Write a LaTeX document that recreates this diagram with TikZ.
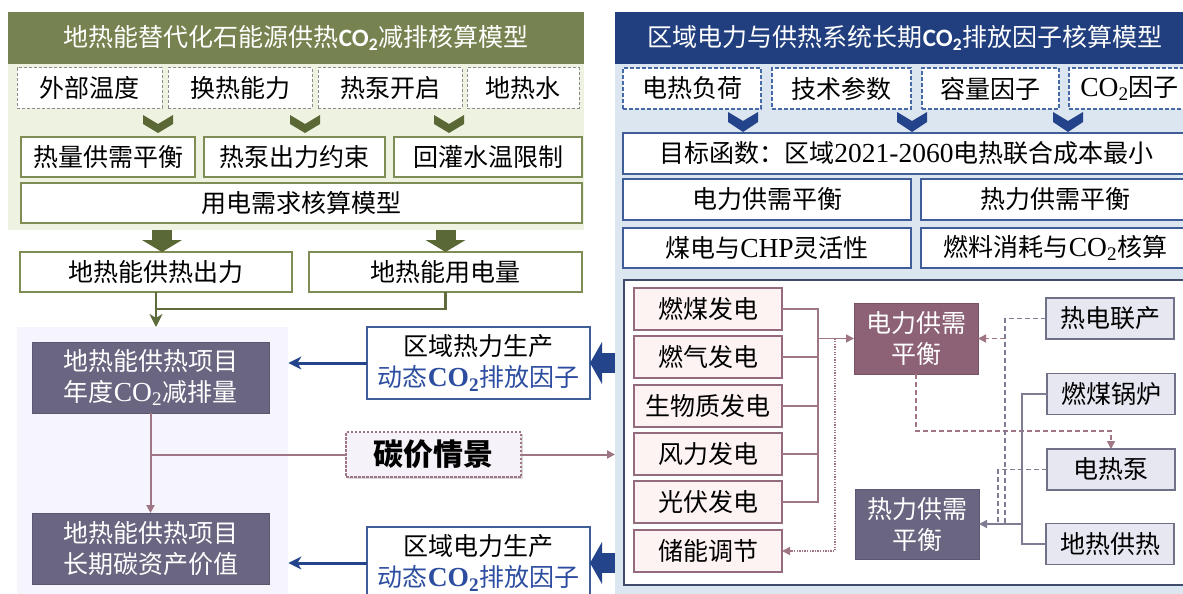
\documentclass[tikz,border=0pt]{standalone}
\usepackage{fontspec}
\setmainfont{Liberation Serif}[Scale=1.1]
\newfontfamily\cjk{Noto Sans CJK SC}
\newfontfamily\carl{Carlito}
\usetikzlibrary{arrows.meta,calc,shadows}
\definecolor{oliveH}{HTML}{768350}
\definecolor{oliveD}{HTML}{5A6835}
\definecolor{oliveBg}{HTML}{EEF2E0}
\definecolor{oliveBd}{HTML}{7E8C56}
\definecolor{oliveL}{HTML}{5E6B3A}
\definecolor{dashG}{HTML}{8C8C8C}
\definecolor{blueH}{HTML}{213F7E}
\definecolor{blueBg}{HTML}{DCE6F0}
\definecolor{blueBd}{HTML}{3F5D97}
\definecolor{blueDash}{HTML}{4769A8}
\definecolor{blueT}{HTML}{2D4EA0}
\definecolor{blueArr}{HTML}{23438A}
\definecolor{mauveBox}{HTML}{8D6276}
\definecolor{purpBox}{HTML}{6A6580}
\definecolor{purpBd}{HTML}{5C5672}
\definecolor{pinkF}{HTML}{FCF3F2}
\definecolor{pinkBd}{HTML}{946A7E}
\definecolor{greyF}{HTML}{E7E7F1}
\definecolor{greyBd}{HTML}{707189}
\definecolor{lavBg}{HTML}{F6F4FD}
\definecolor{mauveL}{HTML}{A07585}
\definecolor{heatL}{HTML}{7F7D93}
\definecolor{frameBd}{HTML}{3E4B6B}
\definecolor{cpF}{HTML}{F6F2F9}
\newcommand{\cotwo}{{\rmfamily CO\textsubscript{2}}}
\newcommand{\cotwob}{{\rmfamily\bfseries CO\textsubscript{2}}}
\newcommand{\cotwoh}{{\carl\bfseries CO\textsubscript{2}}}
\tikzset{
  wh/.style 2 args={minimum width=#1pt, minimum height=#2pt},
  base/.style={font=\cjk\fontsize{25}{31}\selectfont, inner sep=0pt, outer sep=0pt, align=center, text=black},
  hdr/.style={base, font=\cjk\fontsize{25}{30}\selectfont, text=white},
  dashO/.style={base, draw=dashG, fill=white, line width=1pt, dash pattern=on 3pt off 2pt},
  boxO/.style={base, draw=oliveBd, fill=white, line width=1.4pt},
  dashB/.style={base, draw=blueDash, fill=white, line width=1.2pt, dash pattern=on 4pt off 2pt},
  boxB/.style={base, draw=blueBd, fill=white, line width=1.4pt},
  darkbox/.style={base, fill=purpBox, draw=purpBd, line width=1pt, text=white},
  srcbox/.style={base, draw=blueBd, fill=white, line width=1.6pt},
  genbox/.style={base, fill=pinkF, draw=pinkBd, line width=1.4pt},
  heatbox/.style={base, fill=greyF, draw=greyBd, line width=1.4pt},
  blkO/.style={draw=oliveD, line width=20pt, -{Triangle[width=40pt,length=12pt,line width=0pt]}},
  blkB/.style={draw=blueArr, line width=20pt, -{Triangle[width=42pt,length=12pt,line width=0pt]}},
  gline/.style={draw=oliveL, line width=2.5pt},
  bline/.style={draw=blueArr, line width=3pt},
  mline/.style={draw=mauveL, line width=2pt},
  pline/.style={draw=mauveL, line width=1.5pt},
  hline/.style={draw=heatL, line width=1.5pt},
  dsh/.style={dash pattern=on 5pt off 3pt},
  tri/.style={-{Triangle[length=8pt,width=8pt]}},
  stl/.style={-{Stealth[length=13pt,width=13pt,inset=4pt]}},
}
\begin{document}
\begin{tikzpicture}[x=1pt,y=-1pt]
\useasboundingbox (0,0) rectangle (1183,594);
\clip (0,0) rectangle (1183,594);
% ---------- backgrounds ----------
\node[fill=oliveBg, wh={576}{166}, anchor=north west, inner sep=0pt] (gbg) at (8,64) {};
\node[fill=blueBg, wh={580}{540}, anchor=north west, inner sep=0pt] (rbg) at (615,64) {};
\node[fill=lavBg, wh={271}{270}, anchor=north west, inner sep=0pt] (lavP) at (17,327) {};
% ---------- left top ----------
\node[hdr, fill=oliveH, wh={576}{52}] (hL) at (296,38) {地热能替代化石能源供热\cotwoh 减排核算模型};
\node[dashO, wh={145}{40}] (dT) at (89.5,88) {外部温度};
\node[dashO, wh={144}{40}] (dH) at (240,88) {换热能力};
\node[dashO, wh={144}{40}] (dP) at (390,88) {热泵开启};
\node[dashO, wh={112}{40}] (dW) at (523,88) {地热水};
\foreach \cx in {158,305,449}
  \fill[oliveD, shift={(\cx,115)}] (-15,0) -- (0,9) -- (15,0) -- (15,9) -- (0,18) -- (-15,9) -- cycle;
\node[boxO, wh={174}{40}] (r2a) at (108,157) {热量供需平衡};
\node[boxO, wh={181}{40}] (r2b) at (294.5,157) {热泵出力约束};
\node[boxO, wh={188}{40}] (r2c) at (488,157) {回灌水温限制};
\node[boxO, wh={561}{40}] (r3) at (301.5,203) {用电需求核算模型};
\node[boxO, wh={272}{40}] (r4a) at (156,272) {地热能供热出力};
\node[boxO, wh={273}{40}] (r4b) at (445.5,272) {地热能用电量};
\coordinate (ba1) at ($(r4a.north |- gbg.south)+(6,0)$);
\coordinate (ba2) at ($(r4a.north)+(6,0)$);
\draw[blkO] (ba1) -- (ba2);
\draw[blkO] (r4b.north |- gbg.south) -- (r4b.north);
\draw[gline, stl] (r4a.south) -- (r4a.south |- lavP.north);
\draw[gline] (r4b.south) -- ++(0,17) -| (r4a.south);
% ---------- left bottom ----------
\node[darkbox, wh={237}{71}] (d1) at (150.5,377.5) {地热能供热项目\\年度\cotwo 减排量};
\node[darkbox, wh={237}{71}] (d2) at (150.5,548.5) {地热能供热项目\\长期碳资产价值};
\node[base, font=\cjk\bfseries\fontsize{30}{34}\selectfont, draw=mauveL, fill=cpF, line width=1.3pt, dash pattern=on 2.5pt off 1.5pt, drop shadow={shadow xshift=2pt, shadow yshift=-2pt, opacity=0.3, fill=gray}, wh={175}{45}] (cp) at (433.5,454.5) {碳价情景};
\draw[mline, tri] (d1.south) -- (d2.north);
\draw[mline] (d1.south |- cp.west) -- (cp.west);
\draw[mline, tri] (cp.east) -- (cp.east -| rbg.west);
\node[srcbox, wh={223}{72}] (bb1) at (478.5,363) {区域热力生产\\{\color{blueT}动态\cotwob 排放因子}};
\node[srcbox, wh={223}{72}] (bb2) at (478.5,563) {区域电力生产\\{\color{blueT}动态\cotwob 排放因子}};
\draw[bline, stl] (bb1.west) -- (bb1.west -| lavP.east);
\draw[bline, stl] (bb2.west) -- (bb2.west -| lavP.east);
\draw[blkB] (bb1.east -| rbg.west) -- (bb1.east);
\draw[blkB] (bb2.east -| rbg.west) -- (bb2.east);
% ---------- right top ----------
\node[hdr, fill=blueH, wh={580}{52}] (hR) at (905,38) {区域电力与供热系统长期\cotwoh 排放因子核算模型};
\node[dashB, wh={138}{41}] (ld) at (692,88.5) {电热负荷};
\node[dashB, wh={139}{41}] (tp) at (841.5,88.5) {技术参数};
\node[dashB, wh={137}{41}] (cfac) at (990.5,88.5) {容量因子};
\node[dashB, wh={121}{41}] (cof) at (1129.5,88.5) {\cotwo 因子};
\foreach \cx in {743,912,1068}
  \fill[blueArr, shift={(\cx,112)}] (-15,0) -- (0,9) -- (15,0) -- (15,10) -- (0,20) -- (-15,10) -- cycle;
\node[boxB, wh={567}{41}] (obj) at (906.5,153.5) {目标函数：区域{\rmfamily 2021-2060}电热联合成本最小};
\node[boxB, wh={288}{41}] (eb) at (767,199.5) {电力供需平衡};
\node[boxB, wh={269}{41}] (hb) at (1055.5,199.5) {热力供需平衡};
\node[boxB, wh={288}{40}] (cf) at (767,248) {煤电与{\rmfamily CHP}灵活性};
\node[boxB, wh={269}{40}] (fc) at (1055.5,248) {燃料消耗与\cotwo 核算};
% ---------- right bottom ----------
\node[draw=frameBd, fill=white, line width=1.5pt, wh={572}{305}, anchor=north west, inner sep=0pt] (fr) at (623,279) {};
\node[genbox, wh={148}{42}] (g1) at (708,309) {燃煤发电};
\node[genbox, wh={148}{42}] (g2) at (708,357) {燃气发电};
\node[genbox, wh={148}{42}] (g3) at (708,406) {生物质发电};
\node[genbox, wh={148}{42}] (g4) at (708,454) {风力发电};
\node[genbox, wh={148}{42}] (g5) at (708,502) {光伏发电};
\node[genbox, wh={148}{42}] (g6) at (708,551) {储能调节};
\node[darkbox, fill=mauveBox, draw=mauveBox!85!black, wh={124}{71}] (eP) at (916,338.5) {电力供需\\平衡};
\node[darkbox, wh={124}{70}] (hP) at (917,524) {热力供需\\平衡};
\node[heatbox, wh={128}{41}] (chp) at (1110,318.5) {热电联产};
\node[heatbox, wh={128}{41}] (cb) at (1111,394) {燃煤锅炉};
\node[heatbox, wh={128}{41}] (hpm) at (1111,469.5) {电热泵};
\node[heatbox, wh={128}{41}] (geo) at (1110,544) {地热供热};
\coordinate (bus) at ($(g1.east)+(36,0)$);
\coordinate (dotx) at ($(g1.east)+(53,0)$);
\draw[pline] (g1.east) -- (bus) |- (g5.east);
\foreach \g in {g2,g3,g4} \draw[pline] (\g.east) -- (bus |- \g.east);
\draw[pline, tri] (bus |- eP.west) -- (eP.west);
\draw[pline, dash pattern=on 1.3pt off 1.3pt, tri] (dotx |- eP.west) -- (dotx |- g6.east) -- (g6.east);
\draw[pline, dsh, tri] (eP.south) |- ($(hpm.north)+(0,-18)$) -- (hpm.north);
\coordinate (chpx) at ($(chp.west)+(-41,0)$);
\draw[hline, dsh] (chp.west) -- (chpx) -- (chpx |- hP.east);
\draw[pline, dsh, tri] (chpx |- eP.east) -- (eP.east);
\draw[hline, dsh] (hpm.west) -| ($(hP.east)+(19,0)$);
\coordinate (solx) at ($(hP.east)+(43,0)$);
\draw[hline] (cb.west) -| (solx |- geo.west) -- (geo.west);
\draw[hline, tri] (solx |- hP.east) -- (hP.east);
\end{tikzpicture}
\end{document}
